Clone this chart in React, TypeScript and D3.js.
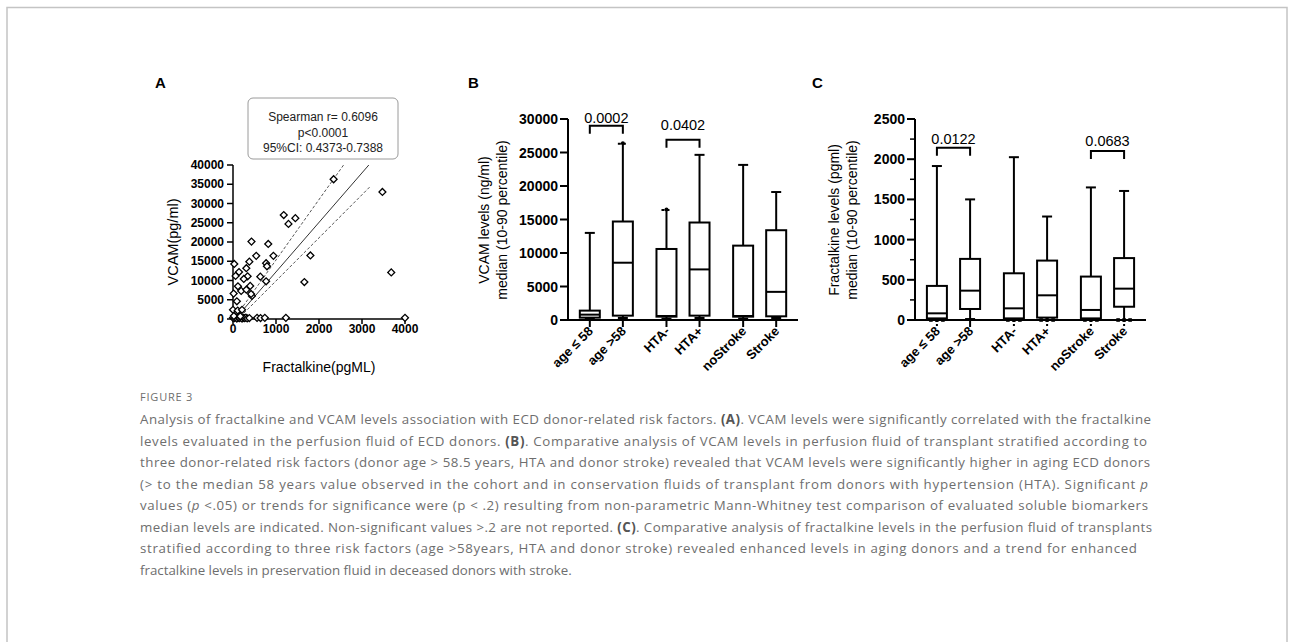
import React from 'react';
import * as d3 from 'd3';

const font = 'Arial, "Liberation Sans", Helvetica, sans-serif';
const capFont = '"Open Sans", "Noto Sans", sans-serif';

// ---------- panel A : scatter ----------
const scatterX = [2340, 3475, 3680, 4000, 1180, 1450, 1290, 430, 820, 540, 940, 1800, 30, 380, 770, 790,
  310, 140, 60, 340, 250, 635, 770, 1660, 115, 400, 190, 310, 440, 420, 15, 90, 0, 110, 210,
  0, 30, 60, 90, 120, 150, 180, 210, 240, 270, 300, 330, 380, 560, 640, 740, 1230, 20, 170];
const scatterY = [36300, 33000, 12100, 300, 27000, 26200, 24700, 20100, 19500, 16400, 16400, 16500, 14300, 14900, 14500, 13700,
  13200, 12200, 11200, 11100, 10400, 11000, 9800, 9600, 8500, 8600, 7300, 7600, 6000, 6500, 6600, 4600, 2400, 2200, 2400,
  300, 200, 400, 100, 300, 200, 400, 100, 300, 200, 350, 150, 250, 300, 250, 300, 300, 800, 700];
const fitLine: [number, number][] = [[150, 1300], [3190, 40400]];
const ciUpper: [number, number][] = [[170, 2300], [3190, 49700]];
const ciLower: [number, number][] = [[170, 600], [3190, 34400]];
const scatterXTicks = [0, 1000, 2000, 3000, 4000];
const scatterYTicks = [0, 5000, 10000, 15000, 20000, 25000, 30000, 35000, 40000];
const statLines = ['Spearman r= 0.6096', 'p<0.0001', '95%CI: 0.4373-0.7388'];

// ---------- panels B and C : box plots ----------
const categories = ['age \u2264 58', 'age >58', 'HTA-', 'HTA+', 'noStroke', 'Stroke'];
const groups = ['age', 'hta', 'stroke'];

const vcamP10 = [150, 300, 200, 300, 200, 300];
const vcamQ1 = [350, 650, 500, 650, 500, 550];
const vcamMed = [800, 8550, 600, 7550, 600, 4200];
const vcamQ3 = [1400, 14700, 10600, 14550, 11100, 13400];
const vcamP90 = [13000, 26300, 16400, 24650, 23150, 19100];
const vcamHighDots = [false, true, true, false, false, false];
const vcamLowDots = [false, false, false, false, false, false];
const vcamTicks = [0, 5000, 10000, 15000, 20000, 25000, 30000];
const vcamBrackets = [
  { from: 0, to: 1, value: 29000, labelValue: 29400, label: '0.0002' },
  { from: 2, to: 3, value: 26900, labelValue: 28400, label: '0.0402' },
];

const fkP10 = [0, 12, 0, 0, 0, 0];
const fkQ1 = [20, 137, 20, 30, 20, 165];
const fkMed = [83, 365, 145, 307, 125, 390];
const fkQ3 = [424, 760, 581, 739, 540, 770];
const fkP90 = [1915, 1500, 2025, 1287, 1649, 1605];
const fkHighDots = [false, false, false, false, false, false];
const fkLowDots = [true, false, true, true, true, true];
const fkTicks = [0, 500, 1000, 1500, 2000, 2500];
const fkMinor = [250, 750, 1250, 1750, 2250];
const fkBrackets = [
  { from: 0, to: 1, value: 2143, labelValue: 2190, label: '0.0122' },
  { from: 4, to: 5, value: 2102, labelValue: 2165, label: '0.0683' },
];

// ---------- caption ----------
type Seg = { t: string; b?: boolean; i?: boolean };
const captionLines: Seg[][] = [
  [{ t: 'Analysis of fractalkine and VCAM levels association with ECD donor-related risk factors. ' }, { t: '(A)', b: true }, { t: '. VCAM levels were significantly correlated with the fractalkine' }],
  [{ t: 'levels evaluated in the perfusion fluid of ECD donors. ' }, { t: '(B)', b: true }, { t: '. Comparative analysis of VCAM levels in perfusion fluid of transplant stratified according to' }],
  [{ t: 'three donor-related risk factors (donor age > 58.5 years, HTA and donor stroke) revealed that VCAM levels were significantly higher in aging ECD donors' }],
  [{ t: '(> to the median 58 years value observed in the cohort and in conservation fluids of transplant from donors with hypertension (HTA). Significant ' }, { t: 'p', i: true }],
  [{ t: 'values (' }, { t: 'p', i: true }, { t: ' <.05) or trends for significance were (p < .2) resulting from non-parametric Mann-Whitney test comparison of evaluated soluble biomarkers' }],
  [{ t: 'median levels are indicated. Non-significant values >.2 are not reported. ' }, { t: '(C)', b: true }, { t: '. Comparative analysis of fractalkine levels in the perfusion fluid of transplants' }],
  [{ t: 'stratified according to three risk factors (age >58years, HTA and donor stroke) revealed enhanced levels in aging donors and a trend for enhanced' }],
  [{ t: 'fractalkine levels in preservation fluid in deceased donors with stroke.' }],
];
const captionEnds = [1151, 1147, 1150, 1148, 1148, 1152, 1137, 0];

function Scatter() {
  const x = d3.scaleLinear().domain([0, 4000]).range([233, 405]);
  const y = d3.scaleLinear().domain([0, 40000]).range([319, 165]);
  const line = d3.line<[number, number]>().x(d => x(d[0])).y(d => y(d[1]));
  const diamond = d3.symbol().type(d3.symbolSquare).size(24)();
  return (
    <g fontFamily={font}>
      <text x={155} y={88} fontSize={15} fontWeight="bold">A</text>
      <rect x={248} y={98} width={150} height={61} rx={5} fill="#fff" stroke="#9a9a9a" strokeWidth={1} />
      {statLines.map((s, i) => (
        <text key={s} x={323} y={121 + i * 15.5} fontSize={12} textAnchor="middle" fill="#222">{s}</text>
      ))}
      <clipPath id="clipA">
        <rect x={x(0)} y={y(40000)} width={x(4000) - x(0)} height={y(0) - y(40000)} />
      </clipPath>
      <g clipPath="url(#clipA)" fill="none">
        <path d={line(fitLine)!} stroke="#333" strokeWidth={1} />
        <path d={line(ciUpper)!} stroke="#444" strokeWidth={0.9} strokeDasharray="3,2" />
        <path d={line(ciLower)!} stroke="#444" strokeWidth={0.9} strokeDasharray="3,2" />
      </g>
      <line x1={x(0)} x2={x(0)} y1={y(0)} y2={y(40000)} stroke="#000" strokeWidth={1.5} />
      <line x1={x(0)} x2={x(4000)} y1={y(0)} y2={y(0)} stroke="#000" strokeWidth={1.5} />
      {scatterYTicks.map(t => (
        <g key={t}>
          <line x1={x(0) - 6} x2={x(0)} y1={y(t)} y2={y(t)} stroke="#000" strokeWidth={1.5} />
          <text x={x(0) - 9} y={y(t)} dy="0.35em" fontSize={12} fontWeight="bold" textAnchor="end">{t}</text>
        </g>
      ))}
      {scatterXTicks.map(t => (
        <g key={t}>
          <line x1={x(t)} x2={x(t)} y1={y(0)} y2={y(0) + 5} stroke="#000" strokeWidth={1.5} />
          <text x={x(t)} y={y(0) + 14} fontSize={12} fontWeight="bold" textAnchor="middle">{t}</text>
        </g>
      ))}
      {scatterX.map((v, i) => (
        <path key={i} d={diamond} transform={`translate(${x(v)},${y(scatterY[i])}) rotate(45)`}
          fill="#fff" stroke="#000" strokeWidth={1.3} />
      ))}
      <text transform={`translate(178,242) rotate(-90)`} fontSize={14.5} textAnchor="middle">VCAM(pg/ml)</text>
      <text x={319} y={372} fontSize={14} textAnchor="middle">Fractalkine(pgML)</text>
    </g>
  );
}

type BoxProps = {
  letter: string; letterX: number; x0: number; x1: number; yMax: number;
  ticks: number[]; minor: number[];
  p10: number[]; q1: number[]; med: number[]; q3: number[]; p90: number[];
  highDots: boolean[]; lowDots: boolean[];
  brackets: { from: number; to: number; value: number; labelValue: number; label: string }[];
  title: string[]; titleX: number;
};

function BoxPanel(p: BoxProps) {
  const y = d3.scaleLinear().domain([0, p.yMax]).range([320, 119]);
  const gx = d3.scaleBand().domain(groups).range([p.x0, p.x1]).paddingInner(0).paddingOuter(0);
  const ix = d3.scalePoint<number>().domain([0, 1]).range([0, gx.bandwidth()]).padding(0.66);
  const cx = (i: number) => gx(groups[Math.floor(i / 2)])! + ix(i % 2)!;
  const bw = 20;
  const cap = 10;
  return (
    <g fontFamily={font}>
      <text x={p.letterX} y={88} fontSize={15} fontWeight="bold">{p.letter}</text>
      <text transform={`translate(${p.titleX},220) rotate(-90)`} fontSize={14} textAnchor="middle">
        <tspan x={0} dy={0}>{p.title[0]}</tspan>
        <tspan x={0} dy={17.5}>{p.title[1]}</tspan>
      </text>
      {categories.map((c, i) => {
        const X = cx(i);
        return (
          <g key={c} stroke="#000" strokeWidth={2} fill="none">
            <line x1={X} x2={X} y1={y(p.q3[i])} y2={y(p.p90[i])} />
            <line x1={X} x2={X} y1={y(p.q1[i])} y2={y(p.p10[i])} />
            <line x1={X - cap / 2} x2={X + cap / 2} y1={y(p.p90[i])} y2={y(p.p90[i])}
              strokeDasharray={p.highDots[i] ? '3,2' : undefined} />
            {p.highDots[i] && <circle cx={X} cy={y(p.p90[i]) - 0.5} r={2} fill="#000" stroke="none" />}
            {!p.lowDots[i] && <line x1={X - cap / 2} x2={X + cap / 2} y1={y(p.p10[i])} y2={y(p.p10[i])} />}
            <rect x={X - bw / 2} y={y(p.q3[i])} width={bw} height={y(p.q1[i]) - y(p.q3[i])} fill="#fff" />
            <line x1={X - bw / 2} x2={X + bw / 2} y1={y(p.med[i])} y2={y(p.med[i])} />
            {p.lowDots[i] && [-6, 0, 6].map(d => (
              <rect key={d} x={X + d - 1.8} y={y(0) - 1.8} width={3.6} height={3.6} fill="#000" stroke="none" />
            ))}
          </g>
        );
      })}
      <line x1={p.x0} x2={p.x0} y1={y(0)} y2={y(p.yMax)} stroke="#000" strokeWidth={2} />
      <line x1={p.x0} x2={p.x1} y1={y(0)} y2={y(0)} stroke="#000" strokeWidth={2} />
      {p.ticks.map(t => (
        <g key={t}>
          <line x1={p.x0 - 8} x2={p.x0} y1={y(t)} y2={y(t)} stroke="#000" strokeWidth={2} />
          <text x={p.x0 - 10} y={y(t)} dy="0.36em" fontSize={14} fontWeight="bold" textAnchor="end">{t}</text>
        </g>
      ))}
      {p.minor.map(t => (
        <line key={t} x1={p.x0 - 5} x2={p.x0} y1={y(t)} y2={y(t)} stroke="#000" strokeWidth={1.5} />
      ))}
      {categories.map((c, i) => (
        <g key={c}>
          <line x1={cx(i)} x2={cx(i)} y1={y(0)} y2={y(0) + 7} stroke="#000" strokeWidth={2}
            strokeDasharray={p.lowDots[i] ? '2,2' : undefined} />
          <text transform={`translate(${cx(i) + 4},${y(0) + 12}) rotate(-45)`} fontSize={13}
            fontWeight="bold" textAnchor="end">{c}</text>
        </g>
      ))}
      {p.brackets.map(b => {
        const a = cx(b.from), e = cx(b.to), yy = y(b.value);
        return (
          <g key={b.label}>
            <path d={`M${a},${yy + 8}V${yy}H${e}V${yy + 8}`} fill="none" stroke="#000" strokeWidth={2} />
            <text x={(a + e) / 2} y={y(b.labelValue)} fontSize={14.5} textAnchor="middle">{b.label}</text>
          </g>
        );
      })}
    </g>
  );
}

function Caption() {
  const left = 140;
  return (
    <g fontFamily={capFont} fill="#6e6e6e">
      <text x={left} y={401} fontSize={11} letterSpacing={0.8}>FIGURE 3</text>
      {captionLines.map((segs, k) => (
        <text key={k} x={left} y={424 + k * 21.5} fontSize={13.3}
          textLength={captionEnds[k] ? captionEnds[k] - left : undefined}
          lengthAdjust={captionEnds[k] ? 'spacing' : undefined}>
          {segs.map((s, j) => (
            <tspan key={j} fontWeight={s.b ? 'bold' : undefined} fontStyle={s.i ? 'italic' : undefined}
              fill={s.b ? '#555' : undefined}>{s.t}</tspan>
          ))}
        </text>
      ))}
    </g>
  );
}

export default function App() {
  return (
    <svg width={1293} height={642} style={{ position: 'absolute', left: 0, top: 0, background: '#fff' }}>
      <rect x={7} y={7.5} width={1280} height={700} fill="none" stroke="#c4c4c4" strokeWidth={1.5} />
      <Scatter />
      <BoxPanel letter="B" letterX={468} x0={568} x1={798} yMax={30000} ticks={vcamTicks} minor={[]}
        p10={vcamP10} q1={vcamQ1} med={vcamMed} q3={vcamQ3} p90={vcamP90}
        highDots={vcamHighDots} lowDots={vcamLowDots} brackets={vcamBrackets}
        title={['VCAM levels (ng/ml)', 'median (10-90 percentile)']} titleX={489} />
      <BoxPanel letter="C" letterX={812} x0={915} x1={1146} yMax={2500} ticks={fkTicks} minor={fkMinor}
        p10={fkP10} q1={fkQ1} med={fkMed} q3={fkQ3} p90={fkP90}
        highDots={fkHighDots} lowDots={fkLowDots} brackets={fkBrackets}
        title={['Fractalkine levels (pgml)', 'median (10-90 percentile)']} titleX={839} />
      <Caption />
    </svg>
  );
}
